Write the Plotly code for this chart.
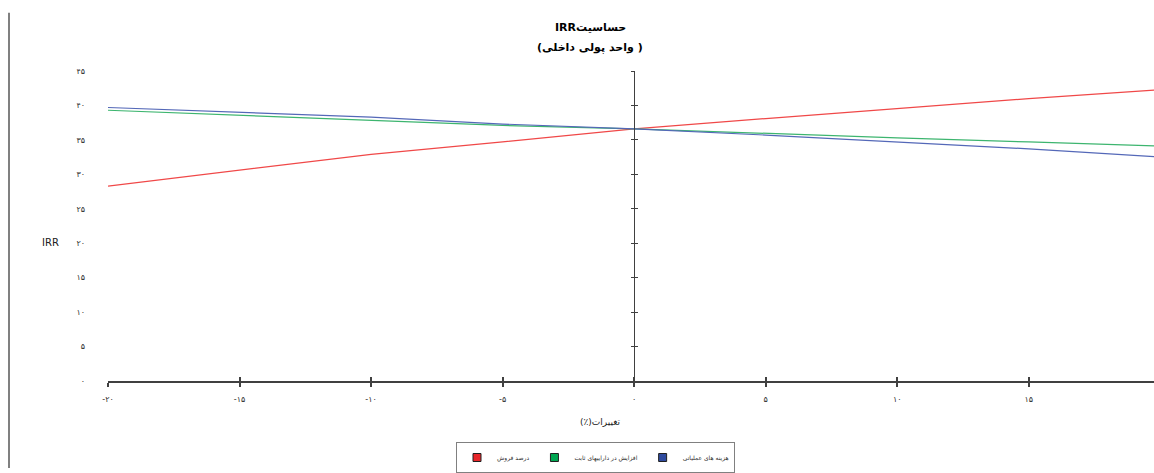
import plotly.graph_objects as go

# Percentage change applied to each input
changes = [-20, -15, -10, -5, 0, 5, 10, 15, 20]

# IRR (%) under each change
irr_sales = [28.3, 30.6, 32.9, 34.7, 36.6, 38.1, 39.6, 41.0, 42.3]
irr_fixed_assets = [39.3, 38.6, 37.9, 37.1, 36.6, 35.9, 35.3, 34.7, 34.1]
irr_operating_costs = [39.7, 39.0, 38.3, 37.3, 36.6, 35.7, 34.7, 33.7, 32.5]

series_names = ["درصد فروش", "افزایش در داراییهای ثابت", "هزینه های عملیاتی"]
line_colors = ["#F04848", "#3DB56F", "#5468B8"]
legend_colors = ["#E8262A", "#00A651", "#2E4A9E"]

x_tickvals = [-20, -15, -10, -5, 0, 5, 10, 15]
x_ticktext = ["-۲۰", "-۱۵", "-۱۰", "-۵", "۰", "۵", "۱۰", "۱۵"]
y_tickvals = [0, 5, 10, 15, 20, 25, 30, 35, 40, 45]
y_ticktext = ["۰", "۵", "۱۰", "۱۵", "۲۰", "۲۵", "۳۰", "۳۵", "۴۰", "۴۵"]

W, H = 1154, 473
ML, MR, MT, MB = 108, 0, 71, 88
x_range = [-20, 19.76]
y_range = [0, 45]

FONT = "DejaVu Sans, Arial, sans-serif"

fig = go.Figure()

for name, vals, col in zip(series_names, [irr_sales, irr_fixed_assets, irr_operating_costs], line_colors):
    fig.add_trace(go.Scatter(x=changes, y=vals, mode="lines", name=name,
                             line=dict(color=col, width=1.2), showlegend=False))

# legend entries shown as filled squares; they also bring the overlay axes into use
legend_axes = [("x2", "y2"), ("x2", "y3"), ("x", "y2")]
for (name, col), (xa, ya) in zip(zip(series_names, legend_colors), legend_axes):
    fig.add_trace(go.Scatter(x=[None], y=[None], mode="markers", name=name,
                             xaxis=xa, yaxis=ya,
                             marker=dict(symbol="square", size=8, color=col,
                                         line=dict(color="#202020", width=1))))

plot_w = W - ML - MR
plot_h = H - MT - MB


def px_x(p):
    return (p - ML) / plot_w


def px_y(p):
    return (H - MB - p) / plot_h


zero_pos = (0 - x_range[0]) / (x_range[1] - x_range[0])
axis_col = "#404040"
tick_font = dict(family=FONT, size=8, color="#303030")

fig.update_layout(
    width=W, height=H,
    margin=dict(l=ML, r=MR, t=MT, b=MB),
    paper_bgcolor="white", plot_bgcolor="white",
    font=dict(family=FONT),
    xaxis=dict(range=x_range, tickvals=x_tickvals, ticktext=x_ticktext,
               showline=True, linecolor=axis_col, linewidth=1.5,
               ticks="outside", ticklen=4, tickcolor=axis_col, tickwidth=1.5,
               showgrid=False, zeroline=False, tickfont=tick_font,
               ticklabelstandoff=6),
    xaxis2=dict(range=x_range, overlaying="x", anchor="y", tickvals=x_tickvals,
                ticks="inside", ticklen=4, tickcolor=axis_col, tickwidth=1.5,
                showticklabels=False, showgrid=False, zeroline=False, showline=False),
    yaxis=dict(range=y_range, tickvals=y_tickvals, ticktext=y_ticktext,
               showline=False, ticks="", showgrid=False, zeroline=False,
               tickfont=tick_font, ticklabelstandoff=22),
    yaxis2=dict(range=y_range, overlaying="y", anchor="free", position=zero_pos,
                tickvals=y_tickvals, showticklabels=False, showline=True,
                linecolor=axis_col, linewidth=1.2, ticks="outside", ticklen=3,
                tickcolor=axis_col, showgrid=False, zeroline=False),
    yaxis3=dict(range=y_range, overlaying="y", anchor="free", position=zero_pos,
                tickvals=y_tickvals, showticklabels=False, showline=False,
                ticks="inside", ticklen=3, tickcolor=axis_col,
                showgrid=False, zeroline=False),
    legend=dict(orientation="h", x=px_x(456), y=px_y(447), xanchor="left", yanchor="top",
                bgcolor="white", bordercolor="#808080", borderwidth=1,
                font=dict(family=FONT, size=6, color="#303030"),
                entrywidth=0, itemwidth=30, tracegroupgap=0),
    showlegend=True,
)

fig.add_annotation(text="<b>IRRحساسیت</b>", xref="paper", yref="paper",
                   x=px_x(590), y=px_y(27), yanchor="middle", showarrow=False,
                   font=dict(family=FONT, size=11, color="#000000"))
fig.add_annotation(text="<b>(واحد پولی داخلی )</b>", xref="paper", yref="paper",
                   x=px_x(590), y=px_y(47), yanchor="middle", showarrow=False,
                   font=dict(family=FONT, size=11, color="#000000"))
fig.add_annotation(text="IRR", xref="paper", yref="paper",
                   x=px_x(40), y=px_y(245), yanchor="middle", showarrow=False,
                   font=dict(family=FONT, size=10, color="#202020"))
fig.add_annotation(text="(٪)تغییرات", xref="paper", yref="paper",
                   x=px_x(600), y=px_y(427), yanchor="middle", showarrow=False,
                   font=dict(family=FONT, size=9, color="#202020"))

# frame edge on the left
fig.add_shape(type="line", xref="paper", yref="paper",
              x0=px_x(9), x1=px_x(9), y0=px_y(12), y1=px_y(473),
              line=dict(color="#808080", width=2))

fig.write_html("out.html")
